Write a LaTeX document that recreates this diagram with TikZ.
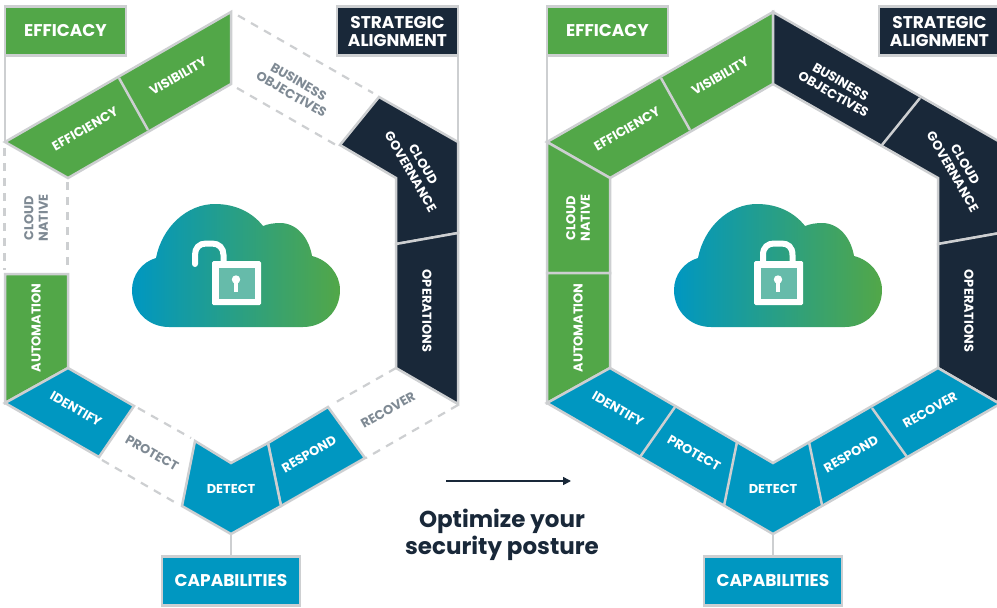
\documentclass[tikz,border=0pt]{standalone}
\usepackage{fontspec}
\setmainfont{Poppins}
\usetikzlibrary{arrows.meta}
\definecolor{grn}{HTML}{52A748}
\definecolor{nvy}{HTML}{192839}
\definecolor{blu}{HTML}{0097C1}
\definecolor{lin}{HTML}{CDCFD1}
\definecolor{txg}{HTML}{7F8A94}
\definecolor{teal}{HTML}{66BBAA}
\tikzset{
 seg/.style={draw=lin,line width=2.5pt,line join=miter},
 sgrn/.style={seg,fill=grn},
 snvy/.style={seg,fill=nvy},
 sblu/.style={seg,fill=blu},
 dashl/.style={draw=lin,line width=2.2pt,dash pattern=on 8pt off 7pt},
 conn/.style={draw=lin,line width=2.5pt},
 lab/.style={font=\fontsize{12.9}{14.5}\selectfont\bfseries,text=white,align=center,inner sep=0pt},
 glab/.style={lab,text=txg},
 boxb/.style={draw=lin,line width=2.4pt,outer sep=0pt,minimum width=121pt,minimum height=49pt,inner sep=0pt,text=white,align=center,font=\fontsize{17}{18}\selectfont\bfseries},
 headtxt/.style={font=\fontsize{23}{27}\selectfont\bfseries,text=nvy,align=center,inner sep=0pt},
}
\newcommand{\cloudicon}{%
 \shade[left color=blu,right color=grn] (169,327) .. controls (148,327) and (132,311) .. (132,290)
 .. controls (132,275) and (142,262) .. (156,258) .. controls (162,227) and (187,204) .. (215,204)
 .. controls (235,204) and (252,212) .. (263,226) .. controls (268,224) and (274,223) .. (280,223)
 .. controls (297,223) and (309,238) .. (312,256) .. controls (328,260) and (340,274) .. (340,290)
 .. controls (340,311) and (324,327) .. (303,327) -- cycle;
 \fill[white,rounded corners=1.5pt] (212,261) rectangle (261,305);
 \fill[teal] (218.5,267.5) rectangle (254.5,298.5);
 \fill[white] (236,279.5) circle (4.2);
 \fill[white] (233.6,280) rectangle (238.4,291.5);
}
\begin{document}
\begin{tikzpicture}[x=1pt,y=-1pt]
\useasboundingbox (0,0) rectangle (997,608);
\clip (0,0) rectangle (997,608);
\fill[white] (0,0) rectangle (997,608);

%% LEFT HEXAGON
\begin{scope}
\cloudicon
\draw[white,line width=6pt,line cap=round] (195,264) -- (195,255) .. controls (195,248) and (199,243.5) .. (206,243.5) -- (212,243.5) .. controls (219,243.5) and (223.5,248) .. (223.5,255) -- (223.5,262);
\coordinate (LT) at (231,12);
\coordinate (LUL) at (5,142);
\coordinate (LUR) at (458,142);
\coordinate (LB) at (231,534);
\node[boxb,fill=grn] (Leff) at (65.5,31) {\raisebox{-1pt}{EFFICACY}};
\node[boxb,fill=nvy] (Lstr) at (397.5,31) {STRATEGIC\\ALIGNMENT};
\node[boxb,fill=blu,minimum width=138pt] (Lcap) at (231,581) {\raisebox{-1pt}{CAPABILITIES}};
\draw[conn] (Leff.south west) -- (LUL);
\draw[conn] (Lstr.south east) -- (LUR);
\draw[conn] (LB) -- (Lcap.north);
% dashed empty cells
\draw[dashl] (238,15.5) -- (373,93);
\draw[dashl] (237,88) -- (336,145);
\draw[dashl] (4.5,148) -- (4.5,270);
\draw[dashl] (67.5,182) -- (67.5,270);
\draw[dashl] (138,408) -- (191,438);
\draw[dashl] (102,460) -- (176,503);
\draw[dashl] (396,368) -- (331,405);
\draw[dashl] (458,405) -- (366,458);
% filled cells
\path[sgrn] (5,142) -- (231,12) -- (231,84) -- (68,178) -- cycle;
\draw[conn] (119,78) -- (148,130);
\path[snvy] (379,97) -- (458,142) -- (458,233) -- (396,244) -- (396,178) -- (340,145) -- cycle;
\path[snvy] (396,244) -- (458,233) -- (458,404) -- (396,368) -- cycle;
\path[sgrn] (5,274) -- (68,274) -- (68,368) -- (5,403) -- cycle;
\path[sblu] (68,368) -- (134,406) -- (99,457) -- (5,403) -- cycle;
\path[sblu] (328,407) -- (365,458) -- (281,506) -- (268,443) -- cycle;
\path[sblu] (195,441) -- (231,463) -- (268,443) -- (281,506) -- (231,534) -- (182,506) -- cycle;
% labels
\node[lab,rotate=30] (Lvis) at (178,76) {VISIBILITY};
\node[lab,rotate=30] (Lefn) at (85,129) {EFFICIENCY};
\node[glab,rotate=-30] (Lbus) at (295,88) {BUSINESS\\OBJECTIVES};
\node[lab,rotate=-60] (Lgov) at (417,168) {CLOUD\\GOVERNANCE};
\node[lab,rotate=-90] (Lope) at (427,311) {OPERATIONS};
\node[glab,rotate=30] (Lrec) at (388,410) {RECOVER};
\node[lab,rotate=30] (Lres) at (309,454) {RESPOND};
\node[lab] (Ldet) at (231,489) {DETECT};
\node[glab,rotate=-30] (Lpro) at (152,453) {PROTECT};
\node[lab,rotate=-30] (Lide) at (76,409) {IDENTIFY};
\node[lab,rotate=90] (Laut) at (36,328) {AUTOMATION};
\node[glab,rotate=90] (Lnat) at (36,218) {CLOUD\\NATIVE};
\end{scope}

%% RIGHT HEXAGON
\begin{scope}[xshift=542pt]
\cloudicon
\draw[white,line width=6pt] (221,262) -- (221,255) .. controls (221,247) and (226,243.5) .. (232,243.5) -- (239.5,243.5) .. controls (246,243.5) and (250.5,247) .. (250.5,255) -- (250.5,262);
\coordinate (RT) at (231,12);
\coordinate (RUL) at (5,142);
\coordinate (RUR) at (458,142);
\coordinate (RB) at (231,534);
\node[boxb,fill=grn] (Reff) at (65.5,31) {\raisebox{-1pt}{EFFICACY}};
\node[boxb,fill=nvy] (Rstr) at (397.5,31) {STRATEGIC\\ALIGNMENT};
\node[boxb,fill=blu,minimum width=138pt] (Rcap) at (231,581) {\raisebox{-1pt}{CAPABILITIES}};
\draw[conn] (Reff.south west) -- (RUL);
\draw[conn] (Rstr.south east) -- (RUR);
\draw[conn] (RB) -- (Rcap.north);
\path[sgrn] (5,142) -- (231,12) -- (231,84) -- (68,178) -- cycle;
\draw[conn] (119,78) -- (148,130);
\path[snvy] (231,12) -- (458,142) -- (458,233) -- (396,244) -- (396,178) -- (231,84) -- cycle;
\draw[conn] (378,98) -- (340,145);
\path[snvy] (396,244) -- (458,233) -- (458,404) -- (396,368) -- cycle;
\path[sgrn] (5,142) -- (68,178) -- (68,273) -- (5,273) -- cycle;
\path[sgrn] (5,273) -- (68,273) -- (68,368) -- (5,403) -- cycle;
\path[sblu] (68,368) -- (231,463) -- (396,368) -- (458,404) -- (231,534) -- (5,403) -- cycle;
\draw[conn] (133,407) -- (98,457);
\draw[conn] (195,442) -- (182,506);
\draw[conn] (267,442) -- (280,505);
\draw[conn] (330,408) -- (365,457);
\node[lab,rotate=30] (Rvis) at (178,76) {VISIBILITY};
\node[lab,rotate=30] (Refn) at (85,129) {EFFICIENCY};
\node[lab,rotate=-30] (Rbus) at (295,88) {BUSINESS\\OBJECTIVES};
\node[lab,rotate=-60] (Rgov) at (417,168) {CLOUD\\GOVERNANCE};
\node[lab,rotate=-90] (Rope) at (427,311) {OPERATIONS};
\node[lab,rotate=30] (Rrec) at (388,410) {RECOVER};
\node[lab,rotate=30] (Rres) at (309,454) {RESPOND};
\node[lab] (Rdet) at (231,489) {DETECT};
\node[lab,rotate=-30] (Rpro) at (152,453) {PROTECT};
\node[lab,rotate=-30] (Ride) at (76,409) {IDENTIFY};
\node[lab,rotate=90] (Raut) at (36,328) {AUTOMATION};
\node[lab,rotate=90] (Rnat) at (36,218) {CLOUD\\NATIVE};
\end{scope}

%% MIDDLE
\coordinate (arrS) at (446,481);
\coordinate (arrE) at (571,481);
\draw[nvy,line width=1.6pt,-{Triangle[length=8pt,width=8pt]}] (arrS) -- (arrE);
\node[headtxt] (opt) at (502,534.5) {Optimize your\\security posture};
\end{tikzpicture}
\end{document}
